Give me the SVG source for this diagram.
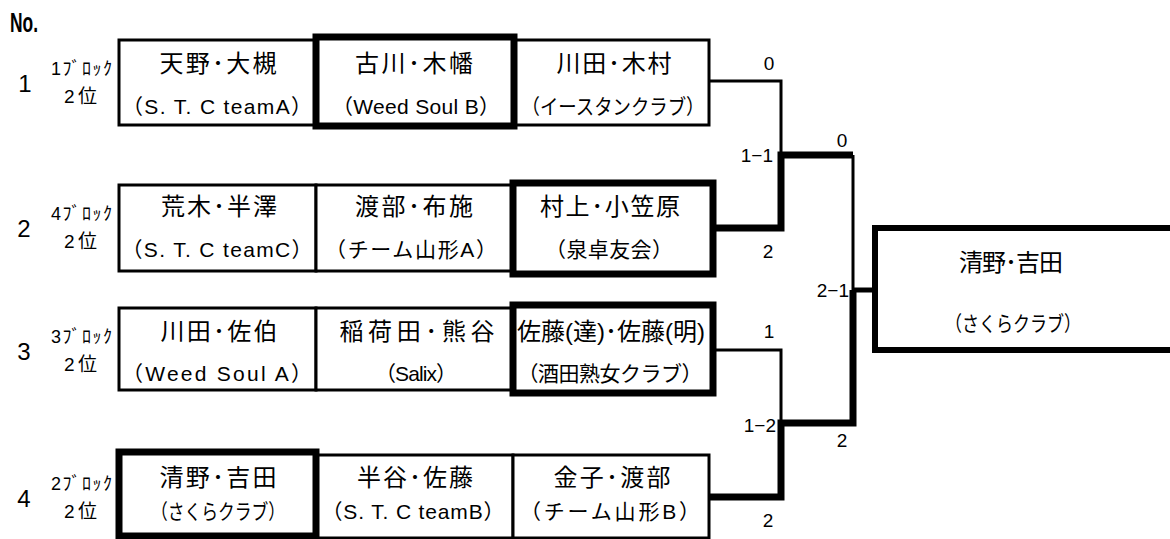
<svg xmlns="http://www.w3.org/2000/svg" width="1170" height="539" viewBox="0 0 1170 539">
<style>
text{font-family:'Liberation Sans','Noto Sans CJK JP',sans-serif;fill:#000}
.box{fill:#fff;stroke:#000;stroke-width:3}
.win{fill:#fff;stroke:#000;stroke-width:7}
.nm{font-size:24px;text-anchor:middle}
.sb{font-size:21px;text-anchor:middle}
.no{font-size:24px;text-anchor:middle}
.blk{font-size:18px}
.rk{font-size:19px}
.sc{font-size:19px}
.thin{fill:none;stroke:#000;stroke-width:3}
.thick{fill:none;stroke:#000;stroke-width:7}
</style>
<rect width="1170" height="539" fill="#fff"/>
<text x="10" y="32" font-size="28" font-weight="bold" textLength="28" lengthAdjust="spacingAndGlyphs">No.</text>

<g id="connectors">
<polyline class="thin" points="709,81 781,81 781,155"/>
<polyline class="thin" points="853,155 853,290"/>
<polyline class="thin" points="713,350 781,350 781,423"/>
<polyline class="thick" points="713,228 781,228 781,155 853,155"/>
<polyline class="thick" points="709,497 781,497 781,423 853,423 853,290"/>
<line x1="853" y1="290" x2="877" y2="290" stroke="#000" stroke-width="5"/>
</g>

<g id="scores">
<text class="sc" x="769" y="70" text-anchor="middle">0</text>
<text class="sc" x="773" y="162" text-anchor="end">1−1</text>
<text class="sc" x="842" y="147" text-anchor="middle">0</text>
<text class="sc" x="768" y="258" text-anchor="middle">2</text>
<text class="sc" x="849" y="297" text-anchor="end">2−1</text>
<text class="sc" x="769" y="338" text-anchor="middle">1</text>
<text class="sc" x="776" y="432" text-anchor="end">1−2</text>
<text class="sc" x="842" y="447" text-anchor="middle">2</text>
<text class="sc" x="768" y="527" text-anchor="middle">2</text>
</g>

<g id="row1">
<text class="no" x="25" y="92">1</text>
<text class="blk" x="51" y="75" textLength="61">1ﾌﾞﾛｯｸ</text>
<text class="rk" x="64" y="103" textLength="33">2位</text>
<g id="r1c1"><rect class="box" x="119" y="40" width="197" height="85"/>
<text class="nm" x="218" y="72" textLength="117">天野･大槻</text>
<text class="sb" x="217" y="114" textLength="190">（S. T. C teamA）</text></g>
<g id="r1c3"><rect class="box" x="513" y="40" width="196" height="85"/>
<text class="nm" x="614" y="72" textLength="115">川田･木村</text>
<text class="sb" x="613" y="114" textLength="183" lengthAdjust="spacingAndGlyphs">（イースタンクラブ）</text></g>
<g id="r1c2"><rect class="win" x="316" y="37" width="198" height="89"/>
<text class="nm" x="414" y="72" textLength="118">古川･木幡</text>
<text class="sb" x="416" y="114" textLength="168">（Weed Soul B）</text></g>
</g>

<g id="row2">
<text class="no" x="24" y="237">2</text>
<text class="blk" x="51" y="220" textLength="61">4ﾌﾞﾛｯｸ</text>
<text class="rk" x="64" y="248" textLength="33">2位</text>
<g id="r2c1"><rect class="box" x="119" y="185" width="197" height="86"/>
<text class="nm" x="219" y="215" textLength="116">荒木･半澤</text>
<text class="sb" x="217" y="257" textLength="191">（S. T. C teamC）</text></g>
<g id="r2c2"><rect class="box" x="316" y="185" width="197" height="86"/>
<text class="nm" x="414" y="215" textLength="118">渡部･布施</text>
<text class="sb" x="411" y="257" textLength="172">（チーム山形A）</text></g>
<g id="r2c3"><rect class="win" x="513" y="183" width="200" height="91"/>
<text class="nm" x="610" y="215" textLength="140">村上･小笠原</text>
<text class="sb" x="609" y="257" textLength="128">（泉卓友会）</text></g>
</g>

<g id="row3">
<text class="no" x="24" y="360">3</text>
<text class="blk" x="51" y="343" textLength="61">3ﾌﾞﾛｯｸ</text>
<text class="rk" x="64" y="371" textLength="33">2位</text>
<g id="r3c1"><rect class="box" x="119" y="308" width="197" height="82"/>
<text class="nm" x="219" y="340" textLength="117">川田･佐伯</text>
<text class="sb" x="217" y="381" textLength="190">（Weed Soul A）</text></g>
<g id="r3c2"><rect class="box" x="316" y="308" width="197" height="82"/>
<text class="nm" x="417" y="340" textLength="155">稲荷田･熊谷</text>
<text class="sb" x="416" y="381" textLength="82">（Salix）</text></g>
<g id="r3c3"><rect class="win" x="513" y="305" width="200" height="88"/>
<text class="nm" x="611" y="340" font-size="21" textLength="188">佐藤(達)･佐藤(明)</text>
<text class="sb" x="610" y="381" textLength="185">（酒田熟女クラブ）</text></g>
</g>

<g id="row4">
<text class="no" x="24" y="507">4</text>
<text class="blk" x="51" y="490" textLength="61">2ﾌﾞﾛｯｸ</text>
<text class="rk" x="64" y="518" textLength="33">2位</text>
<g id="r4c2"><rect class="box" x="316" y="455" width="197" height="83"/>
<text class="nm" x="415" y="486" textLength="116">半谷･佐藤</text>
<text class="sb" x="413" y="519" textLength="183">（S. T. C teamB）</text></g>
<g id="r4c3"><rect class="box" x="513" y="455" width="196" height="83"/>
<text class="nm" x="612" y="486" textLength="117">金子･渡部</text>
<text class="sb" x="610" y="519" textLength="180">（チーム山形B）</text></g>
<g id="r4c1"><rect class="win" x="119" y="452" width="197" height="84"/>
<text class="nm" x="218" y="486" textLength="117">清野･吉田</text>
<text class="sb" x="218" y="519" textLength="134" lengthAdjust="spacingAndGlyphs">（さくらクラブ）</text></g>
</g>

<g id="champion">
<rect x="875" y="228" width="300" height="122" fill="#fff" stroke="#000" stroke-width="6"/>
<text class="nm" x="1011" y="271" textLength="104">清野･吉田</text>
<text class="sb" x="1013" y="331" font-size="22" textLength="136" lengthAdjust="spacingAndGlyphs">（さくらクラブ）</text>
</g>
</svg>
